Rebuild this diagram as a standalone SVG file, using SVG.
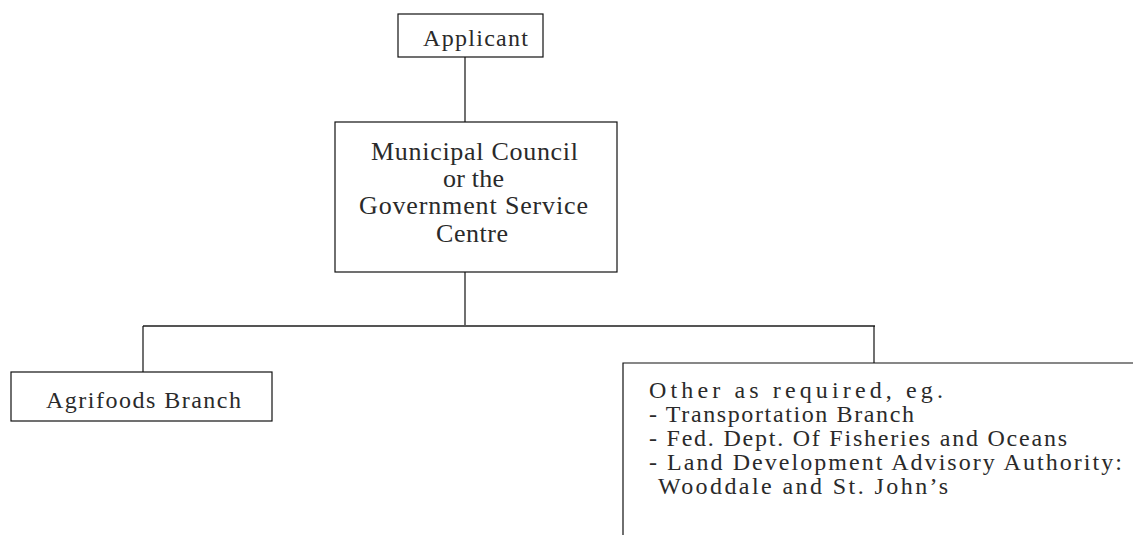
<svg xmlns="http://www.w3.org/2000/svg" width="1133" height="535" viewBox="0 0 1133 535">
<style>
.box{fill:#fff;stroke:#111;stroke-width:1.2}
.ln{fill:none;stroke:#111;stroke-width:1.2}
.hl{fill:none;stroke:#555;stroke-width:1.8}
text{font-family:"Liberation Serif","Times New Roman",serif;fill:#2a2a2a;font-size:24px}
.big{font-size:26px}
</style>
<rect width="1133" height="535" fill="#fff"/>
<g id="connectors">
<line class="ln" x1="465" y1="57" x2="465" y2="122"/>
<line class="ln" x1="465" y1="272" x2="465" y2="326"/>
<line class="hl" x1="143" y1="326" x2="875" y2="326"/>
<line class="ln" x1="143" y1="326" x2="143" y2="372"/>
<line class="ln" x1="874" y1="326" x2="874" y2="363"/>
</g>
<g id="applicant" font-family="Liberation Serif, serif">
<rect class="box" x="398" y="14" width="145" height="43"/>
<text x="423" y="46" textLength="105" lengthAdjust="spacing">Applicant</text>
</g>
<g id="council" font-family="Liberation Serif, serif">
<rect class="box" x="335" y="122" width="282" height="150"/>
<text class="big" x="371" y="160" textLength="207" lengthAdjust="spacing">Municipal Council</text>
<text class="big" x="443" y="187" textLength="61" lengthAdjust="spacing">or the</text>
<text class="big" x="359" y="214" textLength="229" lengthAdjust="spacing">Government Service</text>
<text class="big" x="436" y="242" textLength="72" lengthAdjust="spacing">Centre</text>
</g>
<g id="agrifoods" font-family="Liberation Serif, serif">
<rect class="box" x="11" y="372" width="261" height="49"/>
<text x="46" y="408" textLength="195" lengthAdjust="spacing">Agrifoods Branch</text>
</g>
<g id="other" font-family="Liberation Serif, serif">
<path class="ln" d="M1133,363 H623 V535"/>
<text x="649" y="398" textLength="294" lengthAdjust="spacing">Other as required, eg.</text>
<text x="649" y="422" textLength="265" lengthAdjust="spacing">- Transportation Branch</text>
<text x="649" y="446" textLength="418" lengthAdjust="spacing">- Fed.  Dept.  Of Fisheries and Oceans</text>
<text x="649" y="470" textLength="473" lengthAdjust="spacing">- Land Development Advisory Authority:</text>
<text x="658" y="494" textLength="290" lengthAdjust="spacing">Wooddale and St. John’s</text>
</g>
</svg>
